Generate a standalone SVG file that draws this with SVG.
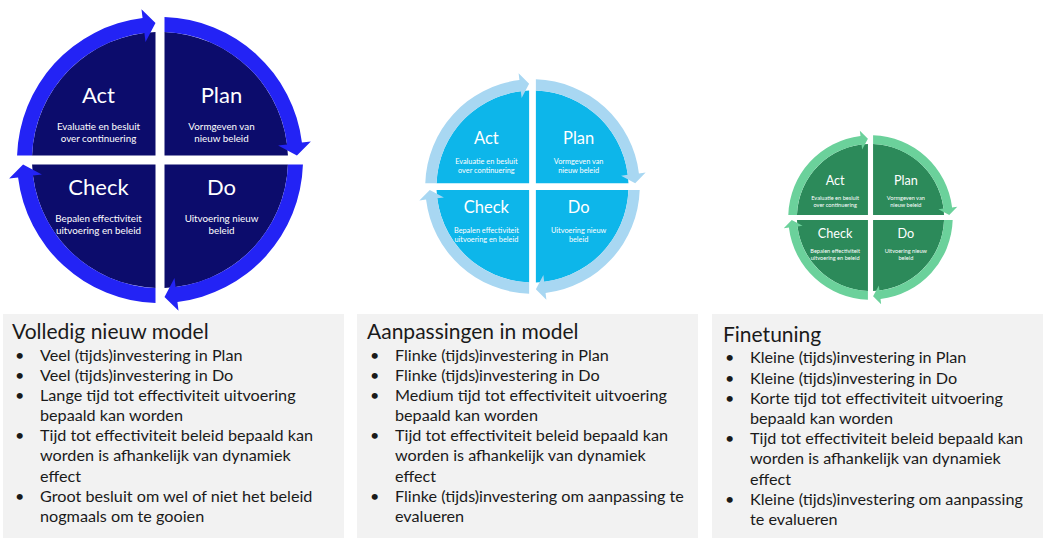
<svg xmlns="http://www.w3.org/2000/svg" xmlns:xlink="http://www.w3.org/1999/xlink" width="1043" height="538" viewBox="0 0 1043 538">
<style>
.d1{fill:#0c0c6c}.a1{fill:#2323f5}
.d2{fill:#0db6ea}.a2{fill:#a8d7f2}
.d3{fill:#2c8a5a}.a3{fill:#6bd19b}
.t{font-family:Lato,"Liberation Sans",sans-serif;fill:#ffffff;text-anchor:middle}
.tt{font-size:22px}
.ts{font-size:9.8px}
.box{fill:#f2f2f2}
.bt{font-family:Lato,"Liberation Sans",sans-serif;fill:#1a1a1a}
.h{font-size:21px}
.b{font-size:16.2px}
</style>
<defs>
<path id="qd" d="M4.5,-4.5 L4.5,-127.92 A128,128 0 0 1 127.92,-4.5 Z"/>
<path id="qa" d="M4.5,-142.93 A143,143 0 0 1 141.93,-17.43 L150.87,-18.52 L136.93,-4.5 L118.11,-14.5 L127.05,-15.6 A128,128 0 0 0 4.5,-127.92 Z"/>
</defs>

<!-- Cycle 1 -->
<g id="cycle1" transform="translate(160,160)">
  <g id="c1-act"><use xlink:href="#qd" href="#qd" class="d1" transform="rotate(270)"/>
    <text class="t tt" x="-61.5" y="-57">Act</text>
    <text class="t ts" x="-61.5" y="-30">Evaluatie en besluit</text>
    <text class="t ts" x="-61.5" y="-18.5">over continuering</text></g>
  <g id="c1-plan"><use xlink:href="#qd" href="#qd" class="d1"/>
    <text class="t tt" x="61.5" y="-57">Plan</text>
    <text class="t ts" x="61.5" y="-30">Vormgeven van</text>
    <text class="t ts" x="61.5" y="-18.5">nieuw beleid</text></g>
  <g id="c1-do"><use xlink:href="#qd" href="#qd" class="d1" transform="rotate(90)"/>
    <text class="t tt" x="61.5" y="35">Do</text>
    <text class="t ts" x="61.5" y="62">Uitvoering nieuw</text>
    <text class="t ts" x="61.5" y="73.5">beleid</text></g>
  <g id="c1-check"><use xlink:href="#qd" href="#qd" class="d1" transform="rotate(180)"/>
    <text class="t tt" x="-61.5" y="35">Check</text>
    <text class="t ts" x="-61.5" y="62">Bepalen effectiviteit</text>
    <text class="t ts" x="-61.5" y="73.5">uitvoering en beleid</text></g>
  <g id="c1-connectors" class="a1">
    <use xlink:href="#qa" href="#qa"/>
    <use xlink:href="#qa" href="#qa" transform="rotate(90)"/>
    <use xlink:href="#qa" href="#qa" transform="rotate(180)"/>
    <use xlink:href="#qa" href="#qa" transform="rotate(270)"/>
  </g>
</g>

<!-- Cycle 2 -->
<g id="cycle2" transform="translate(532.5,186.5) scale(0.75)">
  <g id="c2-act"><use xlink:href="#qd" href="#qd" class="d2" transform="rotate(270)"/>
    <text class="t tt" x="-61.5" y="-57">Act</text>
    <text class="t ts" x="-61.5" y="-30">Evaluatie en besluit</text>
    <text class="t ts" x="-61.5" y="-18.5">over continuering</text></g>
  <g id="c2-plan"><use xlink:href="#qd" href="#qd" class="d2"/>
    <text class="t tt" x="61.5" y="-57">Plan</text>
    <text class="t ts" x="61.5" y="-30">Vormgeven van</text>
    <text class="t ts" x="61.5" y="-18.5">nieuw beleid</text></g>
  <g id="c2-do"><use xlink:href="#qd" href="#qd" class="d2" transform="rotate(90)"/>
    <text class="t tt" x="61.5" y="35">Do</text>
    <text class="t ts" x="61.5" y="62">Uitvoering nieuw</text>
    <text class="t ts" x="61.5" y="73.5">beleid</text></g>
  <g id="c2-check"><use xlink:href="#qd" href="#qd" class="d2" transform="rotate(180)"/>
    <text class="t tt" x="-61.5" y="35">Check</text>
    <text class="t ts" x="-61.5" y="62">Bepalen effectiviteit</text>
    <text class="t ts" x="-61.5" y="73.5">uitvoering en beleid</text></g>
  <g id="c2-connectors" class="a2">
    <use xlink:href="#qa" href="#qa"/>
    <use xlink:href="#qa" href="#qa" transform="rotate(90)"/>
    <use xlink:href="#qa" href="#qa" transform="rotate(180)"/>
    <use xlink:href="#qa" href="#qa" transform="rotate(270)"/>
  </g>
</g>

<!-- Cycle 3 -->
<g id="cycle3" transform="translate(870.5,217.5) scale(0.575)">
  <g id="c3-act"><use xlink:href="#qd" href="#qd" class="d3" transform="rotate(270)"/>
    <text class="t tt" x="-61.5" y="-57">Act</text>
    <text class="t ts" x="-61.5" y="-30">Evaluatie en besluit</text>
    <text class="t ts" x="-61.5" y="-18.5">over continuering</text></g>
  <g id="c3-plan"><use xlink:href="#qd" href="#qd" class="d3"/>
    <text class="t tt" x="61.5" y="-57">Plan</text>
    <text class="t ts" x="61.5" y="-30">Vormgeven van</text>
    <text class="t ts" x="61.5" y="-18.5">nieuw beleid</text></g>
  <g id="c3-do"><use xlink:href="#qd" href="#qd" class="d3" transform="rotate(90)"/>
    <text class="t tt" x="61.5" y="35">Do</text>
    <text class="t ts" x="61.5" y="62">Uitvoering nieuw</text>
    <text class="t ts" x="61.5" y="73.5">beleid</text></g>
  <g id="c3-check"><use xlink:href="#qd" href="#qd" class="d3" transform="rotate(180)"/>
    <text class="t tt" x="-61.5" y="35">Check</text>
    <text class="t ts" x="-61.5" y="62">Bepalen effectiviteit</text>
    <text class="t ts" x="-61.5" y="73.5">uitvoering en beleid</text></g>
  <g id="c3-connectors" class="a3">
    <use xlink:href="#qa" href="#qa"/>
    <use xlink:href="#qa" href="#qa" transform="rotate(90)"/>
    <use xlink:href="#qa" href="#qa" transform="rotate(180)"/>
    <use xlink:href="#qa" href="#qa" transform="rotate(270)"/>
  </g>
</g>

<!-- Box 1 -->
<g id="box1">
  <rect class="box" x="3" y="314" width="341" height="224"/>
  <text class="bt h" x="12" y="339">Volledig nieuw model</text>
  <text class="bt b">
    <tspan x="15" y="361">•</tspan><tspan x="40" y="361">Veel (tijds)investering in Plan</tspan>
    <tspan x="15" y="381">•</tspan><tspan x="40" y="381">Veel (tijds)investering in Do</tspan>
    <tspan x="15" y="401">•</tspan><tspan x="40" y="401">Lange tijd tot effectiviteit uitvoering</tspan>
    <tspan x="40" y="421">bepaald kan worden</tspan>
    <tspan x="15" y="441">•</tspan><tspan x="40" y="441">Tijd tot effectiviteit beleid bepaald kan</tspan>
    <tspan x="40" y="461">worden is afhankelijk van dynamiek</tspan>
    <tspan x="40" y="482">effect</tspan>
    <tspan x="15" y="502">•</tspan><tspan x="40" y="502">Groot besluit om wel of niet het beleid</tspan>
    <tspan x="40" y="522">nogmaals om te gooien</tspan>
  </text>
</g>

<!-- Box 2 -->
<g id="box2">
  <rect class="box" x="357" y="314" width="341" height="224"/>
  <text class="bt h" x="367" y="339">Aanpassingen in model</text>
  <text class="bt b">
    <tspan x="370" y="361">•</tspan><tspan x="395" y="361">Flinke (tijds)investering in Plan</tspan>
    <tspan x="370" y="381">•</tspan><tspan x="395" y="381">Flinke (tijds)investering in Do</tspan>
    <tspan x="370" y="401">•</tspan><tspan x="395" y="401">Medium tijd tot effectiviteit uitvoering</tspan>
    <tspan x="395" y="421">bepaald kan worden</tspan>
    <tspan x="370" y="441">•</tspan><tspan x="395" y="441">Tijd tot effectiviteit beleid bepaald kan</tspan>
    <tspan x="395" y="461">worden is afhankelijk van dynamiek</tspan>
    <tspan x="395" y="482">effect</tspan>
    <tspan x="370" y="502">•</tspan><tspan x="395" y="502">Flinke (tijds)investering om aanpassing te</tspan>
    <tspan x="395" y="522">evalueren</tspan>
  </text>
</g>

<!-- Box 3 -->
<g id="box3">
  <rect class="box" x="712" y="314" width="331" height="224"/>
  <text class="bt h" x="723" y="341.5">Finetuning</text>
  <text class="bt b">
    <tspan x="725" y="363">•</tspan><tspan x="750" y="363">Kleine (tijds)investering in Plan</tspan>
    <tspan x="725" y="383.5">•</tspan><tspan x="750" y="383.5">Kleine (tijds)investering in Do</tspan>
    <tspan x="725" y="403.5">•</tspan><tspan x="750" y="403.5">Korte tijd tot effectiviteit uitvoering</tspan>
    <tspan x="750" y="423.5">bepaald kan worden</tspan>
    <tspan x="725" y="443.5">•</tspan><tspan x="750" y="443.5">Tijd tot effectiviteit beleid bepaald kan</tspan>
    <tspan x="750" y="463.5">worden is afhankelijk van dynamiek</tspan>
    <tspan x="750" y="484.5">effect</tspan>
    <tspan x="725" y="504.5">•</tspan><tspan x="750" y="504.5">Kleine (tijds)investering om aanpassing</tspan>
    <tspan x="750" y="524.5">te evalueren</tspan>
  </text>
</g>
</svg>
